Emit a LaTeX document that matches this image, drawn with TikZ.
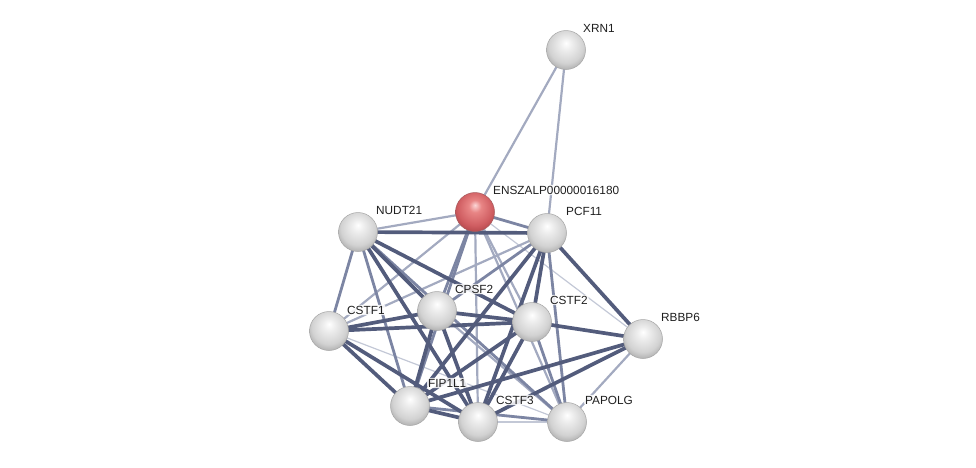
\documentclass[tikz,border=0pt]{standalone}
\usepackage{fontspec}
\setmainfont{Liberation Sans}
\usetikzlibrary{backgrounds}
\definecolor{eA}{HTML}{C3C8D6}
\definecolor{eB}{HTML}{A3AAC0}
\definecolor{eC}{HTML}{7C85A3}
\definecolor{eD}{HTML}{535C7C}
\definecolor{gA}{HTML}{FFFFFF}
\definecolor{gB}{HTML}{EDEDED}
\definecolor{gC}{HTML}{D2D2D2}
\definecolor{gD}{HTML}{A8A8A8}
\definecolor{gE}{HTML}{8A8A8A}
\definecolor{rA}{HTML}{FBD6D6}
\definecolor{rB}{HTML}{E88585}
\definecolor{rC}{HTML}{D05E62}
\definecolor{rD}{HTML}{B04448}
\definecolor{rE}{HTML}{8E3438}
\pgfdeclareradialshading{greysphere}{\pgfpoint{0bp}{9bp}}{color(0bp)=(gA); color(8bp)=(gB); color(22bp)=(gC); color(31bp)=(gD); color(34bp)=(gE); color(50bp)=(gE)}
\pgfdeclareradialshading{redsphere}{\pgfpoint{0bp}{9bp}}{color(0bp)=(rA); color(8bp)=(rB); color(22bp)=(rC); color(31bp)=(rD); color(34bp)=(rE); color(50bp)=(rE)}
\tikzset{
  prot/.style={circle, minimum size=39pt, inner sep=0pt, shading=greysphere, draw=gray!70, line width=0.5pt},
  protred/.style={prot, shading=redsphere, draw=rE!80},
  lab/.style={anchor=west, font=\fontsize{11.8}{13}\selectfont, text=black!88, fill=white, fill opacity=0.85, text opacity=1, inner sep=1pt, rounded corners=2pt},
  ea/.style={eA, line width=1.2pt},
  eb/.style={eB, line width=2.2pt},
  ec/.style={eC, line width=2.8pt},
  ed/.style={eD, line width=3.7pt},
}
\begin{document}
\begin{tikzpicture}[x=1pt,y=-1pt]
\useasboundingbox (0,0) rectangle (976,467);
\node[prot] (X) at (566,50) {};
\node[protred] (E) at (475,212) {};
\node[prot] (N) at (358,232) {};
\node[prot] (P) at (547,233) {};
\node[prot] (CP) at (437,311) {};
\node[prot] (S2) at (532,322) {};
\node[prot] (S1) at (329,331) {};
\node[prot] (R) at (643,339) {};
\node[prot] (F) at (410,406) {};
\node[prot] (S3) at (478,422) {};
\node[prot] (PA) at (567,422) {};
\node[lab] (lX) at (582,28) {XRN1};
\node[lab] (lE) at (492,190) {ENSZALP00000016180};
\node[lab] (lN) at (375,210) {NUDT21};
\node[lab] (lP) at (565,211) {PCF11};
\node[lab] (lCP) at (454,289) {CPSF2};
\node[lab] (lS2) at (549,300) {CSTF2};
\node[lab] (lS1) at (346,310) {CSTF1};
\node[lab] (lR) at (660,317) {RBBP6};
\node[lab] (lF) at (427,383) {FIP1L1};
\node[lab] (lS3) at (495,400) {CSTF3};
\node[lab] (lPA) at (584,400) {PAPOLG};
\begin{scope}[on background layer]
\draw[ea] (E.center) -- (R.center);
\draw[ea] (S1.center) -- (PA.center);
\draw[ea] (S3.center) -- (PA.center);
\draw[eb] (X.center) -- (E.center);
\draw[eb] (X.center) -- (P.center);
\draw[eb] (E.center) -- (N.center);
\draw[eb] (E.center) -- (S2.center);
\draw[eb] (E.center) -- (S1.center);
\draw[eb] (E.center) -- (S3.center);
\draw[eb] (E.center) -- (PA.center);
\draw[eb] (P.center) -- (S1.center);
\draw[eb] (CP.center) -- (PA.center);
\draw[eb] (R.center) -- (PA.center);
\draw[ec] (E.center) -- (P.center);
\draw[ec] (E.center) -- (CP.center);
\draw[ec] (E.center) -- (F.center);
\draw[ec] (N.center) -- (S1.center);
\draw[ec] (N.center) -- (F.center);
\draw[ec] (N.center) -- (PA.center);
\draw[ec] (P.center) -- (CP.center);
\draw[ec] (P.center) -- (PA.center);
\draw[ec] (S2.center) -- (PA.center);
\draw[ec] (F.center) -- (PA.center);
\draw[ed] (N.center) -- (P.center);
\draw[ed] (N.center) -- (CP.center);
\draw[ed] (N.center) -- (S2.center);
\draw[ed] (N.center) -- (S3.center);
\draw[ed] (P.center) -- (S2.center);
\draw[ed] (P.center) -- (F.center);
\draw[ed] (P.center) -- (S3.center);
\draw[ed] (P.center) -- (R.center);
\draw[ed] (CP.center) -- (S2.center);
\draw[ed] (CP.center) -- (S1.center);
\draw[ed] (CP.center) -- (F.center);
\draw[ed] (CP.center) -- (S3.center);
\draw[ed] (S2.center) -- (S1.center);
\draw[ed] (S2.center) -- (F.center);
\draw[ed] (S2.center) -- (S3.center);
\draw[ed] (S2.center) -- (R.center);
\draw[ed] (S1.center) -- (F.center);
\draw[ed] (S1.center) -- (S3.center);
\draw[ed] (F.center) -- (S3.center);
\draw[ed] (F.center) -- (R.center);
\draw[ed] (S3.center) -- (R.center);
\end{scope}
\end{tikzpicture}
\end{document}
